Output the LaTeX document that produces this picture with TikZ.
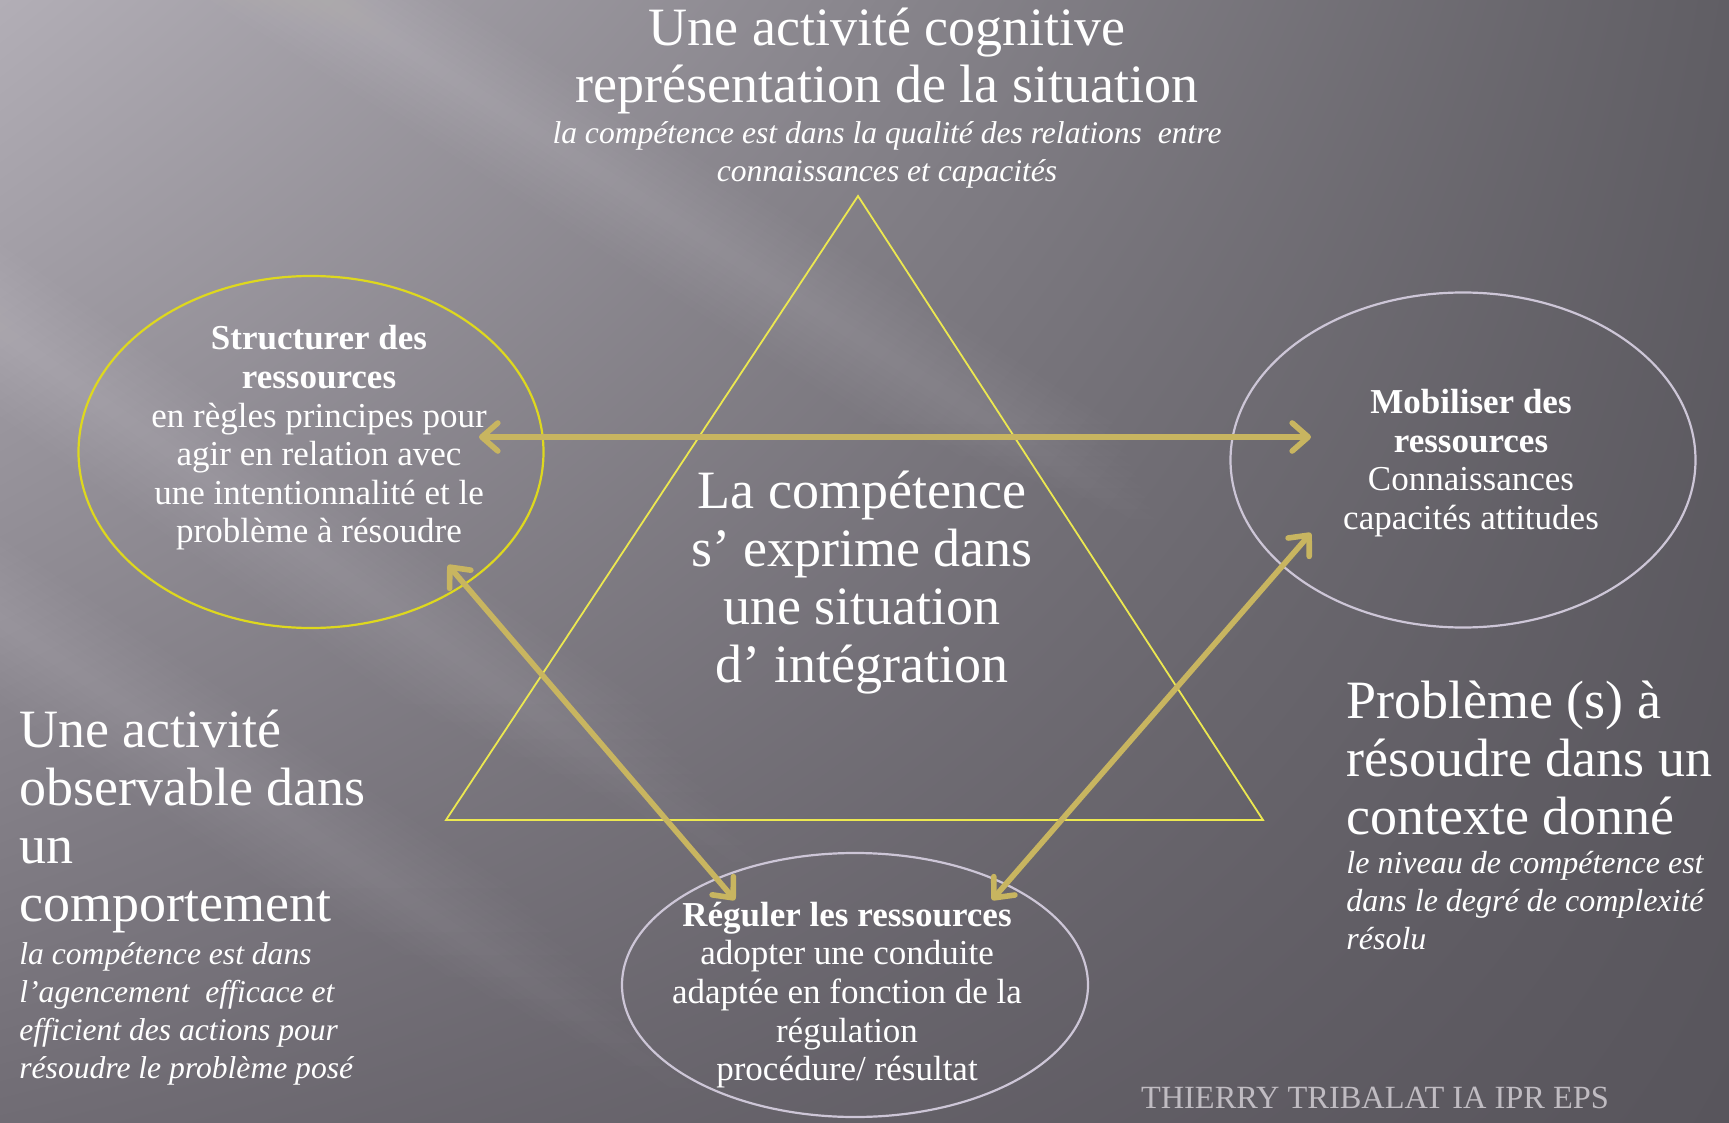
\documentclass[tikz,border=0pt]{standalone}
\usepackage{fontspec}
\setmainfont{Liberation Serif}
\usetikzlibrary{shapes.geometric,arrows.meta,positioning,shadings,calc}

\definecolor{bgTL}{RGB}{178,174,182}
\definecolor{bgTR}{RGB}{96,94,100}
\definecolor{bgBL}{RGB}{112,108,116}
\definecolor{bgBR}{RGB}{88,85,92}
\definecolor{triyellow}{RGB}{236,232,80}
\definecolor{ringyellow}{RGB}{222,216,30}
\definecolor{ringgrey}{RGB}{205,198,215}
\definecolor{arrowgold}{RGB}{200,181,96}
\definecolor{footgrey}{RGB}{192,188,194}

\tikzset{
  bubble/.style={draw, ellipse, line width=1.1pt, inner sep=0pt},
  link/.style={draw=arrowgold, line width=2.8pt, line cap=round,
    {Straight Barb[length=8pt,width=14pt,round]}-{Straight Barb[length=8pt,width=14pt,round]}},
  bigtext/.style={text=white, inner sep=0pt, align=left, font=\fontsize{27}{29}\selectfont},
  smallit/.style={text=white, inner sep=0pt, align=left, font=\fontsize{15.8}{19}\selectfont\itshape},
  bubbletext/.style={text=white, inner sep=0pt, align=center, font=\fontsize{17.5}{19.3}\selectfont}
}

\begin{document}
\begin{tikzpicture}[x=0.5pt, y=-0.5pt]
\useasboundingbox (0,0) rectangle (1729,1123);

%fond
\shade[upper left=bgTL, upper right=bgTR, lower left=bgBL, lower right=bgBR] (0,0) rectangle (1729,1123);
\foreach \sx/\sy/\ex/\ey in {330/0/1160/530, -462/0/770/880, -905/0/715/1110}
  \foreach \w in {12,24,...,120}
    \fill[white, opacity=.013] (\sx-\w,\sy) -- (\sx+\w,\sy)
      -- ($(\sx,\sy)!{1-\w/600}!(\ex,\ey)+(\w,0)$)
      -- ($(\sx,\sy)!{1-\w/600}!(\ex,\ey)-(\w,0)$) -- cycle;

%triangle
\coordinate (apex) at (858,196);
\coordinate (baseL) at (446,820);
\coordinate (baseR) at (1263,820);
\draw[triyellow, line width=0.9pt] (apex) -- (baseL) -- (baseR) -- cycle;

%ellipses
\node[bubble, draw=ringyellow, minimum width=232.5pt, minimum height=176pt] (struct) at (311,452) {};
\node[bubble, draw=ringgrey, minimum width=232.5pt, minimum height=167.5pt] (mobil) at (1463,460) {};
\node[bubble, draw=ringgrey, minimum width=233pt, minimum height=132pt] (regul) at (855,985) {};

%textes
\node[bigtext, align=center, font=\fontsize{27}{28.5}\selectfont] (titre) at (887,61)
  {Une activité cognitive\\représentation de la situation};
\node[smallit, align=center, font=\fontsize{15.8}{18.7}\selectfont\itshape] (soustitre) at (887,155)
  {la compétence est dans la qualité des relations\ \ entre\\connaissances et capacités};

\node[bubbletext] (structtxt) at (319,438)
  {\textbf{Structurer des}\\\textbf{ressources}\\en règles principes pour\\agir en relation avec\\une intentionnalité et le\\problème à résoudre};
\node[bubbletext] (mobiltxt) at (1471,463)
  {\textbf{Mobiliser des}\\\textbf{ressources}\\Connaissances\\capacités attitudes};
\node[bubbletext] (regultxt) at (847,995)
  {\textbf{Réguler les ressources}\\adopter une conduite\\adaptée en fonction de la\\régulation\\procédure/ résultat};

\node[bigtext, align=center] (centre) at (862,583)
  {La compétence\\s’ exprime dans\\une situation\\d’ intégration};

\node[bigtext, anchor=west] (observ) at (19,821)
  {Une activité\\observable dans\\un\\comportement};
\node[smallit, anchor=west] (observit) at (19,1014)
  {la compétence est dans\\l’agencement\ \ efficace et\\efficient des actions pour\\résoudre le problème posé};

\node[bigtext, anchor=west] (probleme) at (1346,758)
  {Problème (s) à\\résoudre dans un\\contexte donné};
\node[smallit, anchor=west, font=\fontsize{16}{19}\selectfont\itshape] (problemeit) at (1346,901)
  {le niveau de compétence est\\dans le degré de complexité\\résolu};

\node[text=footgrey, inner sep=0pt, font=\fontsize{16.2}{19}\selectfont] (auteur) at (1375,1098)
  {THIERRY TRIBALAT IA IPR EPS};

%fleches
\coordinate (structE) at (479,437);
\coordinate (mobilW) at (1311,437);
\coordinate (structSE) at (448,565);
\coordinate (mobilSW) at (1311,533);
\coordinate (regulNW) at (735,900);
\coordinate (regulNE) at (992,900);
\draw[link] (structE) -- (mobilW);
\draw[link] (structSE) -- (regulNW);
\draw[link] (mobilSW) -- (regulNE);

\end{tikzpicture}
\end{document}
